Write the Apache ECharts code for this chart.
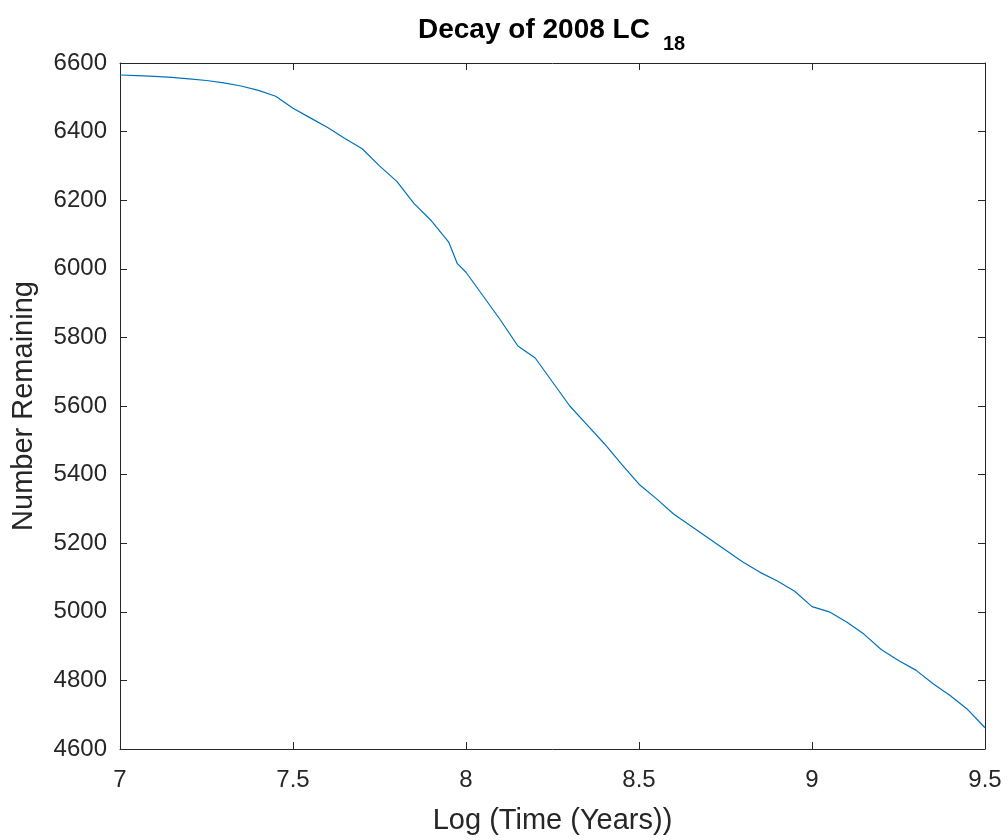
<!DOCTYPE html>
<html>
<head>
<meta charset="utf-8">
<script src="https://cdn.jsdelivr.net/npm/echarts@6/dist/echarts.min.js"></script>
<style>html,body{margin:0;padding:0;background:#fff;}#c{width:1008px;height:840px;}</style>
</head>
<body>
<div id="c"></div>
<script>
const logTime = [7.00,7.05,7.10,7.15,7.20,7.25,7.30,7.35,7.40,7.45,7.50,7.55,7.60,7.65,7.70,7.75,7.80,7.85,7.90,7.95,7.975,8.00,8.05,8.10,8.15,8.20,8.25,8.30,8.35,8.40,8.45,8.50,8.55,8.60,8.65,8.70,8.75,8.80,8.85,8.90,8.95,9.00,9.05,9.10,9.15,9.20,9.25,9.30,9.35,9.40,9.45,9.50];
const numberRemaining = [6565,6563,6561,6558,6554,6549,6542,6533,6520,6503,6468,6440,6412,6380,6350,6300,6255,6190,6140,6078,6015,5990,5920,5850,5775,5740,5670,5600,5545,5490,5430,5372,5330,5285,5250,5215,5180,5145,5115,5090,5060,5015,5000,4970,4935,4890,4858,4830,4790,4755,4715,4662];
const xTicks = [7, 7.5, 8, 8.5, 9, 9.5];
const yTicks = [4600,4800,5000,5200,5400,5600,5800,6000,6200,6400,6600];
const titleMain = 'Decay of 2008 LC';
const titleSub = '18';

const font = '"Liberation Sans", Arial, Helvetica, sans-serif';
const axisColor = '#262626';
const chart = echarts.init(document.getElementById('c'));
const data = logTime.map((x, i) => [x, numberRemaining[i]]);
const boxAxis = {
  axisLine: {show: true, lineStyle: {color: axisColor, width: 1}},
  axisTick: {show: true, inside: true, length: 7, lineStyle: {color: axisColor}},
  splitLine: {show: false}
};
chart.setOption({
  animation: false,
  backgroundColor: '#fff',
  title: [
    {text: titleMain, left: 413, top: 11,
     textStyle: {fontFamily: font, fontWeight: 'bold', fontSize: 28, color: '#000'}},
    {text: titleSub, left: 658, top: 29,
     textStyle: {fontFamily: font, fontWeight: 'bold', fontSize: 20, color: '#000'}}
  ],
  grid: {left: 120, right: 23, top: 63, bottom: 91, containLabel: false},
  xAxis: [
    Object.assign({
      type: 'value', min: 7, max: 9.5, interval: 0.5, position: 'bottom',
      name: 'Log (Time (Years))', nameLocation: 'middle', nameGap: 57,
      nameTextStyle: {fontFamily: font, fontSize: 29, color: axisColor},
      axisLabel: {fontFamily: font, fontSize: 24, color: axisColor, margin: 19,
        formatter: v => xTicks.indexOf(v) >= 0 ? String(v) : ''}
    }, boxAxis),
    Object.assign({
      type: 'value', min: 7, max: 9.5, interval: 0.5, position: 'top',
      axisLabel: {show: false}
    }, boxAxis)
  ],
  yAxis: [
    Object.assign({
      type: 'value', min: 4600, max: 6600, interval: 200, position: 'left',
      name: 'Number Remaining', nameLocation: 'middle', nameGap: 82,
      nameTextStyle: {fontFamily: font, fontSize: 29, color: axisColor},
      axisLabel: {fontFamily: font, fontSize: 24, color: axisColor, margin: 13,
        padding: [8, 0, 0, 0],
        formatter: v => yTicks.indexOf(v) >= 0 ? String(v) : ''}
    }, boxAxis),
    Object.assign({
      type: 'value', min: 4600, max: 6600, interval: 200, position: 'right',
      axisLabel: {show: false}
    }, boxAxis)
  ],
  series: [{
    type: 'line', data: data, showSymbol: false, symbol: 'none',
    lineStyle: {color: '#0072BD', width: 1.2}, smooth: false
  }]
});
</script>
</body>
</html>
